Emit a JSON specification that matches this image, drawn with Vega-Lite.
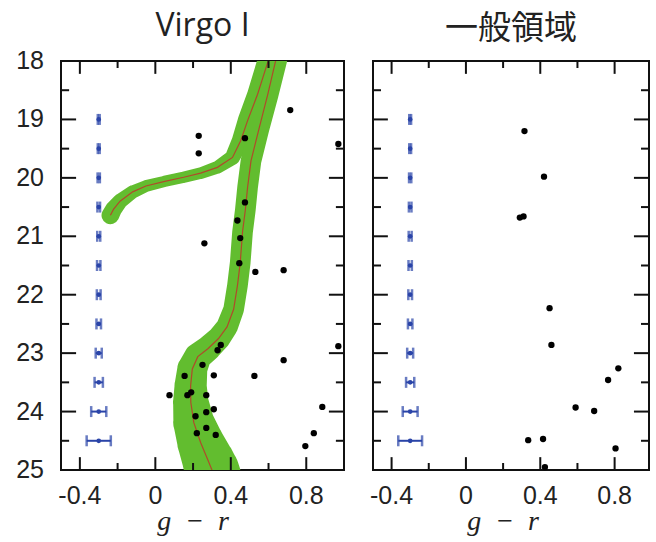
{
  "$schema": "https://vega.github.io/schema/vega-lite/v6.json",
  "background": "white",
  "padding": {"left": 15, "top": 9, "right": 9, "bottom": 4},
  "config": {
    "view": {"stroke": "#111", "strokeWidth": 2},
    "title": {"color": "#222", "fontWeight": "normal", "anchor": "middle"}
  },
  "datasets": {
    "iso": [
      {"branch": "A", "i": 0, "gr": 0.62, "mag": 17.9, "w": 0.115},
      {"branch": "A", "i": 1, "gr": 0.596, "mag": 18.02, "w": 0.115},
      {"branch": "A", "i": 2, "gr": 0.542, "mag": 18.57, "w": 0.11},
      {"branch": "A", "i": 3, "gr": 0.489, "mag": 19.02, "w": 0.105},
      {"branch": "A", "i": 4, "gr": 0.453, "mag": 19.36, "w": 0.095},
      {"branch": "A", "i": 5, "gr": 0.409, "mag": 19.65, "w": 0.08},
      {"branch": "A", "i": 6, "gr": 0.329, "mag": 19.82, "w": 0.068},
      {"branch": "A", "i": 7, "gr": 0.24, "mag": 19.92, "w": 0.062},
      {"branch": "A", "i": 8, "gr": 0.15, "mag": 19.99, "w": 0.06},
      {"branch": "A", "i": 9, "gr": 0.05, "mag": 20.06, "w": 0.06},
      {"branch": "A", "i": 10, "gr": -0.05, "mag": 20.14, "w": 0.063},
      {"branch": "A", "i": 11, "gr": -0.12, "mag": 20.24, "w": 0.07},
      {"branch": "A", "i": 12, "gr": -0.187, "mag": 20.4, "w": 0.08},
      {"branch": "A", "i": 13, "gr": -0.222, "mag": 20.54, "w": 0.09},
      {"branch": "A", "i": 14, "gr": -0.238, "mag": 20.64, "w": 0.095},
      {"branch": "B", "i": 0, "gr": 0.645, "mag": 17.9, "w": 0.12},
      {"branch": "B", "i": 1, "gr": 0.636, "mag": 18.02, "w": 0.12},
      {"branch": "B", "i": 2, "gr": 0.596, "mag": 18.57, "w": 0.115},
      {"branch": "B", "i": 3, "gr": 0.551, "mag": 19.14, "w": 0.11},
      {"branch": "B", "i": 4, "gr": 0.507, "mag": 19.71, "w": 0.11},
      {"branch": "B", "i": 5, "gr": 0.489, "mag": 20.16, "w": 0.11},
      {"branch": "B", "i": 6, "gr": 0.477, "mag": 20.55, "w": 0.11},
      {"branch": "B", "i": 7, "gr": 0.462, "mag": 20.93, "w": 0.11},
      {"branch": "B", "i": 8, "gr": 0.45, "mag": 21.45, "w": 0.11},
      {"branch": "B", "i": 9, "gr": 0.435, "mag": 21.85, "w": 0.11},
      {"branch": "B", "i": 10, "gr": 0.415, "mag": 22.25, "w": 0.11},
      {"branch": "B", "i": 11, "gr": 0.38, "mag": 22.55, "w": 0.115},
      {"branch": "B", "i": 12, "gr": 0.335, "mag": 22.75, "w": 0.125},
      {"branch": "B", "i": 13, "gr": 0.28, "mag": 22.92, "w": 0.135},
      {"branch": "B", "i": 14, "gr": 0.225, "mag": 23.06, "w": 0.145},
      {"branch": "B", "i": 15, "gr": 0.196, "mag": 23.27, "w": 0.16},
      {"branch": "B", "i": 16, "gr": 0.187, "mag": 23.56, "w": 0.172},
      {"branch": "B", "i": 17, "gr": 0.188, "mag": 23.84, "w": 0.19},
      {"branch": "B", "i": 18, "gr": 0.204, "mag": 24.19, "w": 0.22},
      {"branch": "B", "i": 19, "gr": 0.24, "mag": 24.53, "w": 0.25},
      {"branch": "B", "i": 20, "gr": 0.284, "mag": 24.87, "w": 0.28},
      {"branch": "B", "i": 21, "gr": 0.3, "mag": 25.0, "w": 0.29},
      {"branch": "B", "i": 22, "gr": 0.31, "mag": 25.1, "w": 0.29}
    ],
    "virgo": [
      {"gr": 0.715, "mag": 18.84}, {"gr": 0.23, "mag": 19.28}, {"gr": 0.23, "mag": 19.58},
      {"gr": 0.475, "mag": 19.32}, {"gr": 0.97, "mag": 19.42}, {"gr": 0.475, "mag": 20.42},
      {"gr": 0.435, "mag": 20.73}, {"gr": 0.45, "mag": 21.03}, {"gr": 0.26, "mag": 21.12},
      {"gr": 0.445, "mag": 21.46}, {"gr": 0.53, "mag": 21.61}, {"gr": 0.68, "mag": 21.58},
      {"gr": 0.347, "mag": 22.86}, {"gr": 0.33, "mag": 22.95}, {"gr": 0.97, "mag": 22.88},
      {"gr": 0.25, "mag": 23.2}, {"gr": 0.68, "mag": 23.12}, {"gr": 0.155, "mag": 23.39},
      {"gr": 0.31, "mag": 23.38}, {"gr": 0.525, "mag": 23.39}, {"gr": 0.075, "mag": 23.72},
      {"gr": 0.19, "mag": 23.67}, {"gr": 0.17, "mag": 23.72}, {"gr": 0.27, "mag": 23.72},
      {"gr": 0.31, "mag": 23.96}, {"gr": 0.27, "mag": 24.01}, {"gr": 0.213, "mag": 24.08},
      {"gr": 0.27, "mag": 24.28}, {"gr": 0.22, "mag": 24.37}, {"gr": 0.32, "mag": 24.4},
      {"gr": 0.885, "mag": 23.92}, {"gr": 0.84, "mag": 24.37}, {"gr": 0.795, "mag": 24.59}
    ],
    "field": [
      {"gr": 0.315, "mag": 19.2}, {"gr": 0.42, "mag": 19.98}, {"gr": 0.29, "mag": 20.68},
      {"gr": 0.31, "mag": 20.66}, {"gr": 0.45, "mag": 22.23}, {"gr": 0.46, "mag": 22.86},
      {"gr": 0.82, "mag": 23.26}, {"gr": 0.765, "mag": 23.46}, {"gr": 0.59, "mag": 23.93},
      {"gr": 0.69, "mag": 23.99}, {"gr": 0.335, "mag": 24.49}, {"gr": 0.415, "mag": 24.47},
      {"gr": 0.805, "mag": 24.63}, {"gr": 0.425, "mag": 24.95}
    ],
    "err": [
      {"mag": 19.0, "gr": -0.3, "lo": -0.305, "hi": -0.295},
      {"mag": 19.5, "gr": -0.3, "lo": -0.305, "hi": -0.295},
      {"mag": 20.0, "gr": -0.3, "lo": -0.306, "hi": -0.294},
      {"mag": 20.5, "gr": -0.3, "lo": -0.307, "hi": -0.293},
      {"mag": 21.0, "gr": -0.3, "lo": -0.308, "hi": -0.292},
      {"mag": 21.5, "gr": -0.3, "lo": -0.309, "hi": -0.291},
      {"mag": 22.0, "gr": -0.3, "lo": -0.31, "hi": -0.29},
      {"mag": 22.5, "gr": -0.3, "lo": -0.312, "hi": -0.288},
      {"mag": 23.0, "gr": -0.3, "lo": -0.316, "hi": -0.284},
      {"mag": 23.5, "gr": -0.3, "lo": -0.322, "hi": -0.278},
      {"mag": 24.0, "gr": -0.3, "lo": -0.34, "hi": -0.26},
      {"mag": 24.5, "gr": -0.3, "lo": -0.364, "hi": -0.236}
    ],
    "xtk": [
      {"gr": -0.4, "m1": 25, "m2": 24.78}, {"gr": 0, "m1": 25, "m2": 24.78}, {"gr": 0.4, "m1": 25, "m2": 24.78}, {"gr": 0.8, "m1": 25, "m2": 24.78},
      {"gr": -0.4, "m1": 18, "m2": 18.22}, {"gr": 0, "m1": 18, "m2": 18.22}, {"gr": 0.4, "m1": 18, "m2": 18.22}, {"gr": 0.8, "m1": 18, "m2": 18.22},
      {"gr": -0.2, "m1": 25, "m2": 24.88}, {"gr": 0.2, "m1": 25, "m2": 24.88}, {"gr": 0.6, "m1": 25, "m2": 24.88},
      {"gr": -0.2, "m1": 18, "m2": 18.12}, {"gr": 0.2, "m1": 18, "m2": 18.12}, {"gr": 0.6, "m1": 18, "m2": 18.12}
    ],
    "ytkl": [
      {"mag": 19, "g1": -0.5, "g2": -0.42}, {"mag": 20, "g1": -0.5, "g2": -0.42}, {"mag": 21, "g1": -0.5, "g2": -0.42},
      {"mag": 22, "g1": -0.5, "g2": -0.42}, {"mag": 23, "g1": -0.5, "g2": -0.42}, {"mag": 24, "g1": -0.5, "g2": -0.42},
      {"mag": 19, "g1": 1.0, "g2": 0.92}, {"mag": 20, "g1": 1.0, "g2": 0.92}, {"mag": 21, "g1": 1.0, "g2": 0.92},
      {"mag": 22, "g1": 1.0, "g2": 0.92}, {"mag": 23, "g1": 1.0, "g2": 0.92}, {"mag": 24, "g1": 1.0, "g2": 0.92},
      {"mag": 18.5, "g1": -0.5, "g2": -0.457}, {"mag": 19.5, "g1": -0.5, "g2": -0.457}, {"mag": 20.5, "g1": -0.5, "g2": -0.457},
      {"mag": 21.5, "g1": -0.5, "g2": -0.457}, {"mag": 22.5, "g1": -0.5, "g2": -0.457}, {"mag": 23.5, "g1": -0.5, "g2": -0.457},
      {"mag": 24.5, "g1": -0.5, "g2": -0.457},
      {"mag": 18.5, "g1": 1.0, "g2": 0.957}, {"mag": 19.5, "g1": 1.0, "g2": 0.957}, {"mag": 20.5, "g1": 1.0, "g2": 0.957},
      {"mag": 21.5, "g1": 1.0, "g2": 0.957}, {"mag": 22.5, "g1": 1.0, "g2": 0.957}, {"mag": 23.5, "g1": 1.0, "g2": 0.957},
      {"mag": 24.5, "g1": 1.0, "g2": 0.957}
    ],
    "ytkr": [
      {"mag": 19, "g1": -0.5, "g2": -0.42}, {"mag": 20, "g1": -0.5, "g2": -0.42}, {"mag": 21, "g1": -0.5, "g2": -0.42},
      {"mag": 22, "g1": -0.5, "g2": -0.42}, {"mag": 23, "g1": -0.5, "g2": -0.42}, {"mag": 24, "g1": -0.5, "g2": -0.42},
      {"mag": 19, "g1": 0.985, "g2": 0.904}, {"mag": 20, "g1": 0.985, "g2": 0.904}, {"mag": 21, "g1": 0.985, "g2": 0.904},
      {"mag": 22, "g1": 0.985, "g2": 0.904}, {"mag": 23, "g1": 0.985, "g2": 0.904}, {"mag": 24, "g1": 0.985, "g2": 0.904},
      {"mag": 18.5, "g1": -0.5, "g2": -0.457}, {"mag": 19.5, "g1": -0.5, "g2": -0.457}, {"mag": 20.5, "g1": -0.5, "g2": -0.457},
      {"mag": 21.5, "g1": -0.5, "g2": -0.457}, {"mag": 22.5, "g1": -0.5, "g2": -0.457}, {"mag": 23.5, "g1": -0.5, "g2": -0.457},
      {"mag": 24.5, "g1": -0.5, "g2": -0.457},
      {"mag": 18.5, "g1": 0.985, "g2": 0.942}, {"mag": 19.5, "g1": 0.985, "g2": 0.942}, {"mag": 20.5, "g1": 0.985, "g2": 0.942},
      {"mag": 21.5, "g1": 0.985, "g2": 0.942}, {"mag": 22.5, "g1": 0.985, "g2": 0.942}, {"mag": 23.5, "g1": 0.985, "g2": 0.942},
      {"mag": 24.5, "g1": 0.985, "g2": 0.942}
    ],
    "xlab": [
      {"gr": -0.4, "mag": 25, "label": "-0.4"}, {"gr": 0, "mag": 25, "label": "0"},
      {"gr": 0.4, "mag": 25, "label": "0.4"}, {"gr": 0.8, "mag": 25, "label": "0.8"}
    ],
    "ylab": [
      {"gr": -0.5, "mag": 18, "label": "18"}, {"gr": -0.5, "mag": 19, "label": "19"},
      {"gr": -0.5, "mag": 20, "label": "20"}, {"gr": -0.5, "mag": 21, "label": "21"},
      {"gr": -0.5, "mag": 22, "label": "22"}, {"gr": -0.5, "mag": 23, "label": "23"},
      {"gr": -0.5, "mag": 24, "label": "24"}, {"gr": -0.5, "mag": 25, "label": "25"}
    ],
    "xtitle": [{"gr": 0.2, "mag": 25, "label": "g\u2002\u2212\u2002r"}]
  },
  "hconcat": [
    {
      "width": 283,
      "height": 409,
      "title": {"text": "Virgo I", "font": "Open Sans", "fontSize": 32, "offset": 6},
      "layer": [
        {
          "data": {"name": "iso"},
          "mark": {"type": "trail", "color": "#62bd2f", "clip": true},
          "encoding": {
            "x": {"field": "gr", "type": "quantitative", "scale": {"domain": [-0.5, 1.0], "nice": false, "zero": false}, "axis": null},
            "y": {"field": "mag", "type": "quantitative", "scale": {"domain": [18, 25], "reverse": true, "nice": false, "zero": false}, "axis": null},
            "detail": {"field": "branch"},
            "order": {"field": "i", "type": "quantitative"},
            "size": {"field": "w", "type": "quantitative", "scale": {"domain": [0, 0.4], "range": [0, 75]}, "legend": null}
          }
        },
        {
          "data": {"name": "iso"},
          "mark": {"type": "line", "color": "#b04a2a", "strokeWidth": 1.2, "clip": true},
          "encoding": {
            "x": {"field": "gr", "type": "quantitative", "axis": null},
            "y": {"field": "mag", "type": "quantitative", "axis": null},
            "detail": {"field": "branch"},
            "order": {"field": "i", "type": "quantitative"}
          }
        },
        {
          "data": {"name": "xtk"},
          "mark": {"type": "rule", "color": "#111", "strokeWidth": 2},
          "encoding": {"x": {"field": "gr", "type": "quantitative", "axis": null}, "y": {"field": "m1", "type": "quantitative", "axis": null}, "y2": {"field": "m2"}}
        },
        {
          "data": {"name": "ytkl"},
          "mark": {"type": "rule", "color": "#111", "strokeWidth": 2},
          "encoding": {"y": {"field": "mag", "type": "quantitative", "axis": null}, "x": {"field": "g1", "type": "quantitative", "axis": null}, "x2": {"field": "g2"}}
        },
        {
          "data": {"name": "virgo"},
          "mark": {"type": "circle", "color": "#000", "opacity": 1, "size": 40},
          "encoding": {"x": {"field": "gr", "type": "quantitative", "axis": null}, "y": {"field": "mag", "type": "quantitative", "axis": null}}
        },
        {
          "data": {"name": "err"},
          "mark": {"type": "rule", "color": "#2a44a8", "strokeWidth": 2},
          "encoding": {"x": {"field": "lo", "type": "quantitative", "axis": null}, "x2": {"field": "hi"}, "y": {"field": "mag", "type": "quantitative", "axis": null}}
        },
        {
          "data": {"name": "err"},
          "mark": {"type": "tick", "color": "#2a44a8", "orient": "vertical", "size": 11, "thickness": 2.5},
          "encoding": {"x": {"field": "lo", "type": "quantitative", "axis": null}, "y": {"field": "mag", "type": "quantitative", "axis": null}}
        },
        {
          "data": {"name": "err"},
          "mark": {"type": "tick", "color": "#2a44a8", "orient": "vertical", "size": 11, "thickness": 2.5},
          "encoding": {"x": {"field": "hi", "type": "quantitative", "axis": null}, "y": {"field": "mag", "type": "quantitative", "axis": null}}
        },
        {
          "data": {"name": "err"},
          "mark": {"type": "circle", "color": "#2a44a8", "opacity": 1, "size": 22},
          "encoding": {"x": {"field": "gr", "type": "quantitative", "axis": null}, "y": {"field": "mag", "type": "quantitative", "axis": null}}
        },
        {
          "data": {"name": "ylab"},
          "mark": {"type": "text", "align": "right", "baseline": "middle", "dx": -17, "font": "Liberation Sans", "fontSize": 25, "color": "#222"},
          "encoding": {"x": {"field": "gr", "type": "quantitative", "axis": null}, "y": {"field": "mag", "type": "quantitative", "axis": null}, "text": {"field": "label"}}
        },
        {
          "data": {"name": "xlab"},
          "mark": {"type": "text", "align": "center", "baseline": "top", "dy": 14, "font": "Liberation Sans", "fontSize": 25, "color": "#222"},
          "encoding": {"x": {"field": "gr", "type": "quantitative", "axis": null}, "y": {"field": "mag", "type": "quantitative", "axis": null}, "text": {"field": "label"}}
        },
        {
          "data": {"name": "xtitle"},
          "mark": {"type": "text", "align": "center", "baseline": "top", "dy": 38, "font": "Liberation Serif", "fontStyle": "italic", "fontSize": 28, "color": "#222"},
          "encoding": {"x": {"field": "gr", "type": "quantitative", "axis": null}, "y": {"field": "mag", "type": "quantitative", "axis": null}, "text": {"field": "label"}}
        }
      ]
    },
    {
      "width": 276,
      "height": 409,
      "title": {"text": "一般領域", "font": "Noto Sans CJK JP", "fontSize": 33, "offset": 14},
      "layer": [
        {
          "data": {"name": "field"},
          "mark": {"type": "circle", "color": "#000", "opacity": 1, "size": 40},
          "encoding": {
            "x": {"field": "gr", "type": "quantitative", "scale": {"domain": [-0.5, 0.985], "nice": false, "zero": false}, "axis": null},
            "y": {"field": "mag", "type": "quantitative", "scale": {"domain": [18, 25], "reverse": true, "nice": false, "zero": false}, "axis": null}
          }
        },
        {
          "data": {"name": "xtk"},
          "mark": {"type": "rule", "color": "#111", "strokeWidth": 2},
          "encoding": {"x": {"field": "gr", "type": "quantitative", "axis": null}, "y": {"field": "m1", "type": "quantitative", "axis": null}, "y2": {"field": "m2"}}
        },
        {
          "data": {"name": "ytkr"},
          "mark": {"type": "rule", "color": "#111", "strokeWidth": 2},
          "encoding": {"y": {"field": "mag", "type": "quantitative", "axis": null}, "x": {"field": "g1", "type": "quantitative", "axis": null}, "x2": {"field": "g2"}}
        },
        {
          "data": {"name": "err"},
          "mark": {"type": "rule", "color": "#2a44a8", "strokeWidth": 2},
          "encoding": {"x": {"field": "lo", "type": "quantitative", "axis": null}, "x2": {"field": "hi"}, "y": {"field": "mag", "type": "quantitative", "axis": null}}
        },
        {
          "data": {"name": "err"},
          "mark": {"type": "tick", "color": "#2a44a8", "orient": "vertical", "size": 11, "thickness": 2.5},
          "encoding": {"x": {"field": "lo", "type": "quantitative", "axis": null}, "y": {"field": "mag", "type": "quantitative", "axis": null}}
        },
        {
          "data": {"name": "err"},
          "mark": {"type": "tick", "color": "#2a44a8", "orient": "vertical", "size": 11, "thickness": 2.5},
          "encoding": {"x": {"field": "hi", "type": "quantitative", "axis": null}, "y": {"field": "mag", "type": "quantitative", "axis": null}}
        },
        {
          "data": {"name": "err"},
          "mark": {"type": "circle", "color": "#2a44a8", "opacity": 1, "size": 22},
          "encoding": {"x": {"field": "gr", "type": "quantitative", "axis": null}, "y": {"field": "mag", "type": "quantitative", "axis": null}}
        },
        {
          "data": {"name": "xlab"},
          "mark": {"type": "text", "align": "center", "baseline": "top", "dy": 14, "font": "Liberation Sans", "fontSize": 25, "color": "#222"},
          "encoding": {"x": {"field": "gr", "type": "quantitative", "axis": null}, "y": {"field": "mag", "type": "quantitative", "axis": null}, "text": {"field": "label"}}
        },
        {
          "data": {"name": "xtitle"},
          "mark": {"type": "text", "align": "center", "baseline": "top", "dy": 38, "font": "Liberation Serif", "fontStyle": "italic", "fontSize": 28, "color": "#222"},
          "encoding": {"x": {"field": "gr", "type": "quantitative", "axis": null}, "y": {"field": "mag", "type": "quantitative", "axis": null}, "text": {"field": "label"}}
        }
      ]
    }
  ],
  "spacing": 29,
  "bounds": "flush"
}
